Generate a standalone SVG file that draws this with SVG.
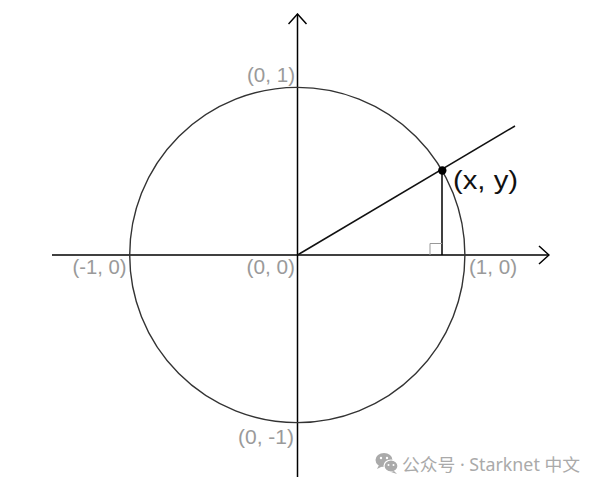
<svg xmlns="http://www.w3.org/2000/svg" width="600" height="489" viewBox="0 0 600 489">
<style>
.lbl{font-family:"Liberation Sans",Arial,sans-serif;font-size:20px;fill:#9a9a9a}
.ax{stroke:#000;stroke-width:1.5;fill:none}
.wm{font-family:"Noto Sans","Noto Sans CJK SC",sans-serif;font-size:17.5px;fill:#aaaaaa}
</style>
<defs>
<marker id="arr" viewBox="0 0 12 20" refX="11" refY="10" markerWidth="12" markerHeight="20" markerUnits="userSpaceOnUse" orient="auto">
<path d="M1,1 L11,10 L1,19" fill="none" stroke="#000" stroke-width="1.5"/>
</marker>
</defs>
<rect width="600" height="489" fill="#fff"/>
<g id="connectors">
<line class="ax" x1="52" y1="255" x2="549" y2="255" marker-end="url(#arr)"/>
<line class="ax" x1="297.5" y1="477" x2="297.5" y2="14" marker-end="url(#arr)"/>
<line x1="297.5" y1="255" x2="515" y2="126" stroke="#111" stroke-width="1.5"/>
<line x1="442" y1="170" x2="442" y2="255" stroke="#000" stroke-width="1.5"/>
</g>
<g id="circle"><circle cx="297.3" cy="255" r="167.6" fill="none" stroke="#333" stroke-width="1.4"/></g>
<g id="right-angle"><path d="M430,255 V243.5 H442" fill="none" stroke="#999" stroke-width="1"/></g>
<g id="point"><circle cx="442.3" cy="170.5" r="4.2" fill="#000"/>
<text x="453" y="188.5" textLength="65" lengthAdjust="spacingAndGlyphs" style="font-family:'Liberation Sans',Arial,sans-serif;font-size:25px;fill:#111">(x, y)</text></g>
<g id="labels">
<text class="lbl" x="247" y="82" textLength="48" lengthAdjust="spacingAndGlyphs">(0, 1)</text>
<text class="lbl" x="72.5" y="274" textLength="54" lengthAdjust="spacingAndGlyphs">(-1, 0)</text>
<text class="lbl" x="246.5" y="274" textLength="48.5" lengthAdjust="spacingAndGlyphs">(0, 0)</text>
<text class="lbl" x="469" y="274" textLength="48" lengthAdjust="spacingAndGlyphs">(1, 0)</text>
<text class="lbl" x="238" y="444" textLength="56" lengthAdjust="spacingAndGlyphs">(0, -1)</text>
</g>
<g id="watermark">
<ellipse cx="384" cy="460" rx="8.5" ry="7" fill="#aaaaaa"/>
<path d="M379,465 L377,469 L383,466 Z" fill="#aaaaaa"/>
<ellipse cx="391" cy="466" rx="7" ry="6" fill="#aaaaaa" stroke="#fff" stroke-width="1.2"/>
<path d="M394,471 L397,474 L391,472 Z" fill="#aaaaaa"/>
<circle cx="381" cy="458" r="1.2" fill="#fff"/><circle cx="387" cy="458" r="1.2" fill="#fff"/>
<circle cx="388.5" cy="465" r="1" fill="#fff"/><circle cx="393.5" cy="465" r="1" fill="#fff"/>
<text class="wm" x="402" y="471" textLength="178" lengthAdjust="spacingAndGlyphs">公众号 · Starknet 中文</text>
</g>
</svg>
